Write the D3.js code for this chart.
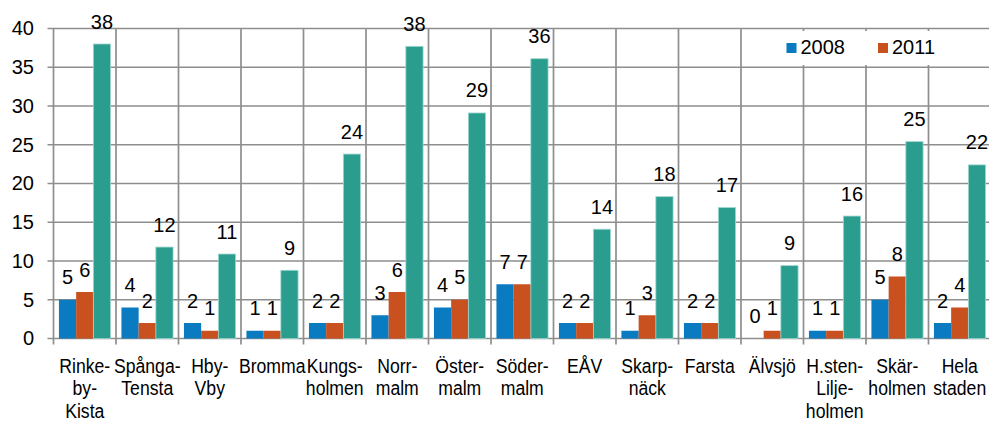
<!DOCTYPE html>
<html lang="sv">
<head>
    <meta charset="UTF-8">
    <title>Stadsdelar 2008 / 2011</title>
    <script src="https://d3js.org/d3.v7.min.js"></script>
    <style>
        body {
            margin: 0;
            background: #fff;
            font-family: "Liberation Sans", Arial, sans-serif;
        }
        .grid line {
            stroke: #8e8e8e;
            stroke-width: 1.7px;
        }
        .num {
            font-size: 20px;
            fill: #000;
        }
        .cat {
            font-size: 21px;
            fill: #000;
        }
    </style>
</head>
<body>
<div id="chart"></div>

<script>
    // data
    const categories = [
        ["Rinke-", "by-", "Kista"],
        ["Spånga-", "Tensta"],
        ["Hby-", "Vby"],
        ["Bromma"],
        ["Kungs-", "holmen"],
        ["Norr-", "malm"],
        ["Öster-", "malm"],
        ["Söder-", "malm"],
        ["EÅV"],
        ["Skarp-", "näck"],
        ["Farsta"],
        ["Älvsjö"],
        ["H.sten-", "Lilje-", "holmen"],
        ["Skär-", "holmen"],
        ["Hela", "staden"]
    ];
    const values2008 = [5, 4, 2, 1, 2, 3, 4, 7, 2, 1, 2, 0, 1, 5, 2];
    const values2011 = [6, 2, 1, 1, 2, 6, 5, 7, 2, 3, 2, 1, 1, 8, 4];
    const values3 = [38.0, 11.8, 10.9, 8.8, 23.8, 37.7, 29.1, 36.1, 14.1, 18.3, 16.9, 9.4, 15.8, 25.4, 22.4];
    const seriesNames = ["2008", "2011", "s3"];
    const legendNames = ["2008", "2011"];
    const yTicks = [0, 5, 10, 15, 20, 25, 30, 35, 40];

    const colors = {"2008": "#0a7bc1", "2011": "#c9511f", "s3": "#2a9d8f"};

    const width = 989, height = 421;
    const plotL = 53.5, plotR = 991, plotT = 28.5, plotB = 338.5;

    const svg = d3.select("#chart").append("svg")
        .attr("width", width)
        .attr("height", height);

    const keys = categories.map(c => c.join(""));
    const x = d3.scaleBand().domain(keys).range([plotL, plotR]).padding(0);
    const step = x.step();
    const x1 = d3.scaleBand().domain(seriesNames).range([step * 0.087, step * 0.913]).padding(0);
    const y = d3.scaleLinear().domain([0, 40]).range([plotB, plotT]);

    // grid
    const grid = svg.append("g").attr("class", "grid");
    grid.selectAll(".h")
        .data(yTicks)
        .enter().append("line")
        .attr("x1", plotL - 6).attr("x2", plotR)
        .attr("y1", d => y(d)).attr("y2", d => y(d));
    grid.selectAll(".v")
        .data(keys.concat(["end"]))
        .enter().append("line")
        .attr("x1", d => d === "end" ? plotR : x(d))
        .attr("x2", d => d === "end" ? plotR : x(d))
        .attr("y1", plotT).attr("y2", plotB + 6);

    // y axis labels
    const yAxis = svg.append("g")
        .attr("transform", `translate(${plotL},0)`)
        .call(d3.axisLeft(y).tickValues(yTicks).tickSize(0).tickPadding(19.5));
    yAxis.select(".domain").remove();
    yAxis.selectAll("text")
        .attr("class", "num")
        .attr("font-family", null)
        .attr("font-size", null);
    yAxis.attr("font-family", null).attr("font-size", null);

    // legend box (sits over the grid)
    const legend = svg.append("g");
    legend.append("rect")
        .attr("x", 772).attr("y", 31)
        .attr("width", 175).attr("height", 34)
        .attr("fill", "#fff");
    const lx = [786.5, 878];
    legendNames.forEach((n, i) => {
        legend.append("rect")
            .attr("x", lx[i]).attr("y", 43)
            .attr("width", 10).attr("height", 10)
            .attr("fill", colors[n]);
        legend.append("text")
            .attr("class", "num")
            .attr("x", lx[i] + 14).attr("y", 53.5)
            .text(n);
    });

    // bars
    const rows = keys.map((k, i) => ({
        key: k,
        vals: [
            {s: "2008", v: values2008[i]},
            {s: "2011", v: values2011[i]},
            {s: "s3", v: values3[i]}
        ]
    }));

    const groups = svg.selectAll(".grp")
        .data(rows)
        .enter().append("g")
        .attr("transform", d => `translate(${x(d.key)},0)`);

    groups.selectAll("rect")
        .data(d => d.vals)
        .enter().append("rect")
        .attr("x", d => x1(d.s))
        .attr("width", x1.bandwidth())
        .attr("y", d => y(d.v))
        .attr("height", d => y(0) - y(d.v))
        .attr("fill", d => colors[d.s])
        .attr("stroke", d => d.s === "s3" ? "#9fd6cf" : "none")
        .attr("stroke-width", 0.8);

    groups.selectAll("text")
        .data(d => d.vals)
        .enter().append("text")
        .attr("class", "num")
        .attr("text-anchor", "middle")
        .attr("x", d => x1(d.s) + x1.bandwidth() / 2)
        .attr("y", d => y(d.v) - 15.5)
        .text(d => Math.round(d.v));

    // category labels, narrow like the original
    const cats = svg.selectAll(".cat")
        .data(categories)
        .enter().append("text")
        .attr("class", "cat")
        .attr("text-anchor", "middle")
        .attr("transform", (d, i) => `translate(${x(keys[i]) + step / 2},372.5) scale(0.84,1)`);
    cats.selectAll("tspan")
        .data(d => d)
        .enter().append("tspan")
        .attr("x", 0)
        .attr("y", (d, i) => i * 22.6)
        .text(d => d);
</script>
</body>
</html>
